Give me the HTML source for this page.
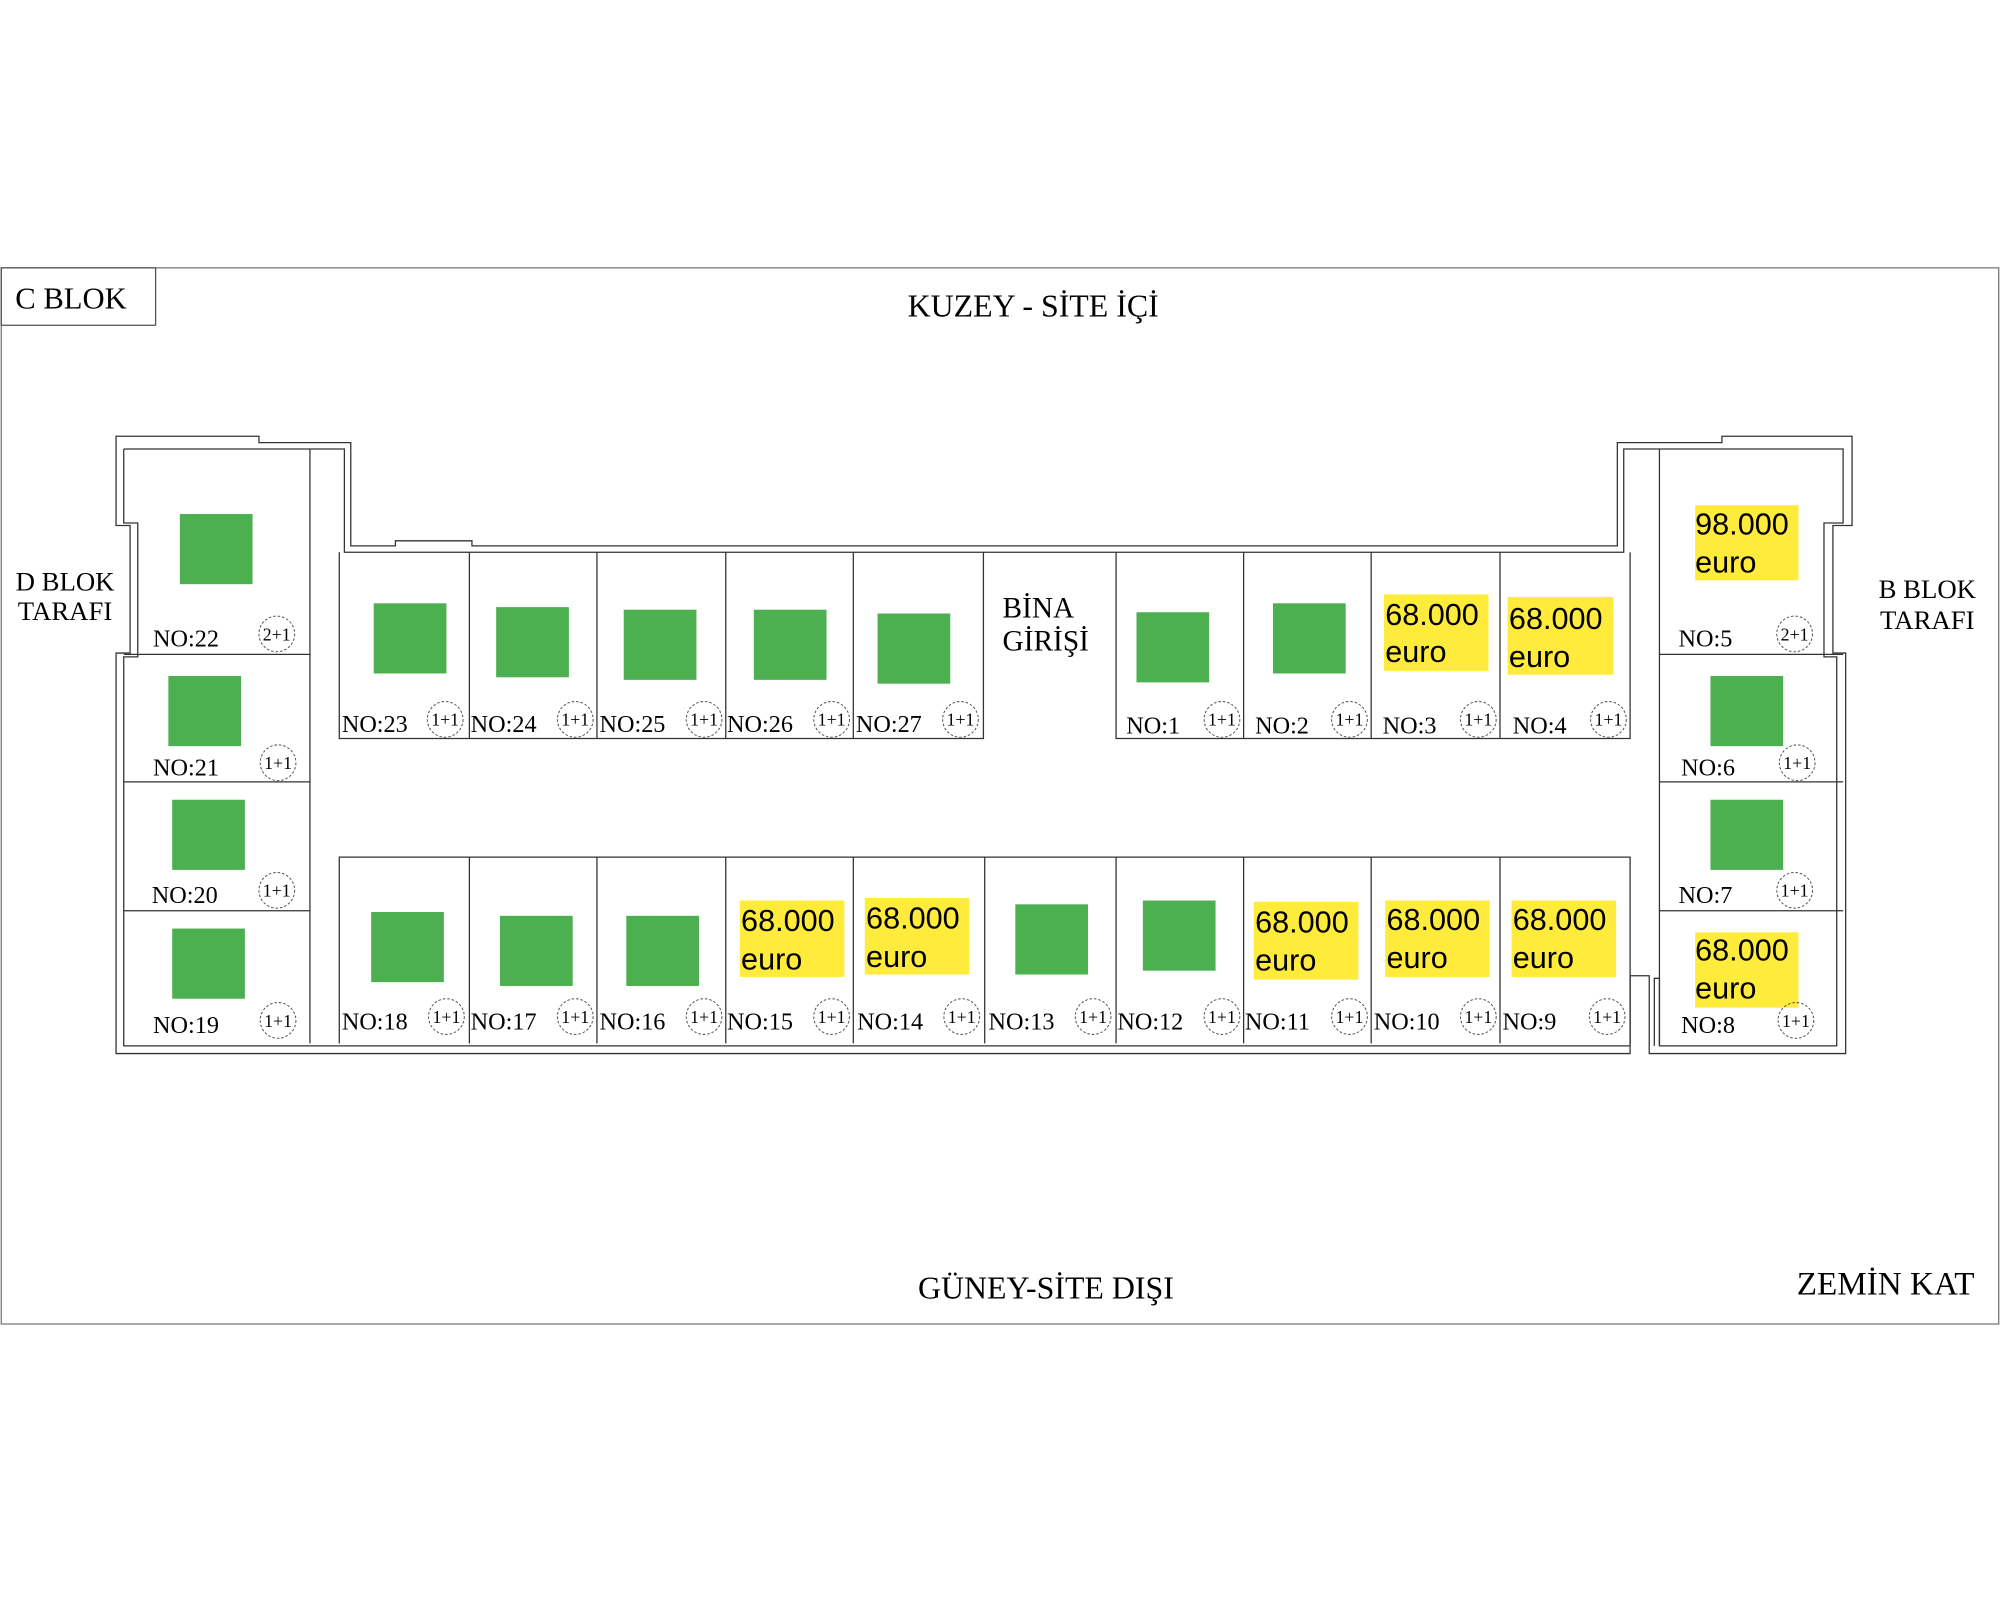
<!DOCTYPE html>
<html><head><meta charset="utf-8"><style>
html,body{margin:0;padding:0;background:#fff;}
svg{display:block;}
.s{font-family:"Liberation Serif",serif;fill:#000;}
.y{font-family:"Liberation Sans",sans-serif;fill:#000;font-size:24px;}
.c{fill:none;stroke:#555;stroke-width:0.8;stroke-dasharray:2,1.5;}
.l{fill:none;stroke:#333;stroke-width:1;}
.g{fill:#4caf50;}
.b{fill:#ffeb3b;}
</style></head><body>
<svg width="2000" height="1600" viewBox="0 0 1568 1254.4" xmlns="http://www.w3.org/2000/svg">
<rect x="1" y="210" width="1566" height="828" fill="none" stroke="#777" stroke-width="1"/>
<rect x="1" y="210" width="121" height="45" fill="none" stroke="#555" stroke-width="1"/>
<text class="s" x="12" y="242" font-size="24">C BLOK</text>
<text class="s" x="810" y="248" font-size="25" text-anchor="middle">KUZEY - SİTE İÇİ</text>
<text class="s" x="820" y="1018" font-size="25" text-anchor="middle">GÜNEY-SİTE DIŞI</text>
<text class="s" x="1548" y="1015" font-size="26" text-anchor="end">ZEMİN KAT</text>
<text class="s" x="51" y="463" font-size="21" text-anchor="middle">D BLOK</text>
<text class="s" x="51" y="486" font-size="21" text-anchor="middle">TARAFI</text>
<text class="s" x="1511" y="469" font-size="21" text-anchor="middle">B BLOK</text>
<text class="s" x="1511" y="493" font-size="21" text-anchor="middle">TARAFI</text>
<text class="s" x="786" y="484" font-size="23">BİNA</text>
<text class="s" x="786" y="510" font-size="23">GİRİŞİ</text>

<!-- walls -->
<path class="l" d="M91,342 H203 V347 H275 V428 H310 V424 H370 V428 H1268 V347 H1350 V342 H1452 V412 H1437 V512 H1447 V826 H1293 V765 H1278 V826 H91 V512 H102 V412 H91 Z"/>
<path class="l" d="M97,352 H270 V433 H1273 V352 H1445 V410 H1430 V515 H1440 V820 H1301 V767 H1297 V820"/>
<path class="l" d="M1278,820 H97 V515 H108 V410 H97 V352"/>
<line class="l" x1="243" y1="352" x2="243" y2="818"/>
<line class="l" x1="1301" y1="352" x2="1301" y2="820"/>
<line class="l" x1="97" y1="513" x2="243" y2="513"/>
<line class="l" x1="97" y1="613" x2="243" y2="613"/>
<line class="l" x1="97" y1="714" x2="243" y2="714"/>
<line class="l" x1="1301" y1="513" x2="1445" y2="513"/>
<line class="l" x1="1301" y1="613" x2="1445" y2="613"/>
<line class="l" x1="1301" y1="714" x2="1445" y2="714"/>
<path class="l" d="M266,433 V579 H771 V433 M368,433 V579 M468,433 V579 M569,433 V579 M669,433 V579"/>
<path class="l" d="M875,433 V579 H1278 V433 M975,433 V579 M1075,433 V579 M1176,433 V579"/>
<path class="l" d="M266,818 V672 H1278 V818 M368,672 V818 M468,672 V818 M569,672 V818 M669,672 V818 M772,672 V818 M875,672 V818 M975,672 V818 M1075,672 V818 M1176,672 V818"/>

<rect class="g" x="141" y="403" width="57" height="55"/>
<rect class="g" x="132" y="530" width="57" height="55"/>
<rect class="g" x="135" y="627" width="57" height="55"/>
<rect class="g" x="135" y="728" width="57" height="55"/>
<rect class="g" x="293" y="473" width="57" height="55"/>
<rect class="g" x="389" y="476" width="57" height="55"/>
<rect class="g" x="489" y="478" width="57" height="55"/>
<rect class="g" x="591" y="478" width="57" height="55"/>
<rect class="g" x="688" y="481" width="57" height="55"/>
<rect class="g" x="891" y="480" width="57" height="55"/>
<rect class="g" x="998" y="473" width="57" height="55"/>
<rect class="g" x="291" y="715" width="57" height="55"/>
<rect class="g" x="392" y="718" width="57" height="55"/>
<rect class="g" x="491" y="718" width="57" height="55"/>
<rect class="g" x="796" y="709" width="57" height="55"/>
<rect class="g" x="896" y="706" width="57" height="55"/>
<rect class="g" x="1341" y="530" width="57" height="55"/>
<rect class="g" x="1341" y="627" width="57" height="55"/>

<g>
<rect class="b" x="1085" y="466" width="82" height="60"/><text class="y" x="1086" y="490">68.000</text><text class="y" x="1086" y="519">euro</text>
<rect class="b" x="1182" y="468" width="83" height="61"/><text class="y" x="1183" y="493">68.000</text><text class="y" x="1183" y="523">euro</text>
<rect class="b" x="1329" y="396" width="81" height="59"/><text class="y" x="1329" y="419">98.000</text><text class="y" x="1329" y="449">euro</text>
<rect class="b" x="580" y="706" width="82" height="60"/><text class="y" x="581" y="730">68.000</text><text class="y" x="581" y="760">euro</text>
<rect class="b" x="678" y="704" width="82" height="60"/><text class="y" x="679" y="728">68.000</text><text class="y" x="679" y="758">euro</text>
<rect class="b" x="983" y="707" width="82" height="61"/><text class="y" x="984" y="731">68.000</text><text class="y" x="984" y="761">euro</text>
<rect class="b" x="1086" y="706" width="82" height="60"/><text class="y" x="1087" y="729">68.000</text><text class="y" x="1087" y="759">euro</text>
<rect class="b" x="1185" y="706" width="82" height="60"/><text class="y" x="1186" y="729">68.000</text><text class="y" x="1186" y="759">euro</text>
<rect class="b" x="1329" y="731" width="81" height="59"/><text class="y" x="1329" y="753">68.000</text><text class="y" x="1329" y="783">euro</text>
</g>

<g class="s" font-size="19">
<text x="120" y="507">NO:22</text>
<text x="120" y="608">NO:21</text>
<text x="119" y="708">NO:20</text>
<text x="120" y="810">NO:19</text>
<text x="268" y="574">NO:23</text>
<text x="369" y="574">NO:24</text>
<text x="470" y="574">NO:25</text>
<text x="570" y="574">NO:26</text>
<text x="671" y="574">NO:27</text>
<text x="883" y="575">NO:1</text>
<text x="984" y="575">NO:2</text>
<text x="1084" y="575">NO:3</text>
<text x="1186" y="575">NO:4</text>
<text x="268" y="807">NO:18</text>
<text x="369" y="807">NO:17</text>
<text x="470" y="807">NO:16</text>
<text x="570" y="807">NO:15</text>
<text x="672" y="807">NO:14</text>
<text x="775" y="807">NO:13</text>
<text x="876" y="807">NO:12</text>
<text x="976" y="807">NO:11</text>
<text x="1077" y="807">NO:10</text>
<text x="1178" y="807">NO:9</text>
<text x="1316" y="507">NO:5</text>
<text x="1318" y="608">NO:6</text>
<text x="1316" y="708">NO:7</text>
<text x="1318" y="810">NO:8</text>
</g>

<g>
<circle class="c" cx="217" cy="497" r="14"/><text class="s" x="217" y="502" font-size="14" text-anchor="middle">2+1</text>
<circle class="c" cx="218" cy="598" r="14"/><text class="s" x="218" y="603" font-size="14" text-anchor="middle">1+1</text>
<circle class="c" cx="217" cy="698" r="14"/><text class="s" x="217" y="703" font-size="14" text-anchor="middle">1+1</text>
<circle class="c" cx="218" cy="800" r="14"/><text class="s" x="218" y="805" font-size="14" text-anchor="middle">1+1</text>
<circle class="c" cx="1407" cy="497" r="14"/><text class="s" x="1407" y="502" font-size="14" text-anchor="middle">2+1</text>
<circle class="c" cx="1409" cy="598" r="14"/><text class="s" x="1409" y="603" font-size="14" text-anchor="middle">1+1</text>
<circle class="c" cx="1407" cy="698" r="14"/><text class="s" x="1407" y="703" font-size="14" text-anchor="middle">1+1</text>
<circle class="c" cx="1408" cy="800" r="14"/><text class="s" x="1408" y="805" font-size="14" text-anchor="middle">1+1</text>
<circle class="c" cx="349" cy="564" r="14"/><text class="s" x="349" y="569" font-size="14" text-anchor="middle">1+1</text>
<circle class="c" cx="451" cy="564" r="14"/><text class="s" x="451" y="569" font-size="14" text-anchor="middle">1+1</text>
<circle class="c" cx="552" cy="564" r="14"/><text class="s" x="552" y="569" font-size="14" text-anchor="middle">1+1</text>
<circle class="c" cx="652" cy="564" r="14"/><text class="s" x="652" y="569" font-size="14" text-anchor="middle">1+1</text>
<circle class="c" cx="753" cy="564" r="14"/><text class="s" x="753" y="569" font-size="14" text-anchor="middle">1+1</text>
<circle class="c" cx="958" cy="564" r="14"/><text class="s" x="958" y="569" font-size="14" text-anchor="middle">1+1</text>
<circle class="c" cx="1058" cy="564" r="14"/><text class="s" x="1058" y="569" font-size="14" text-anchor="middle">1+1</text>
<circle class="c" cx="1159" cy="564" r="14"/><text class="s" x="1159" y="569" font-size="14" text-anchor="middle">1+1</text>
<circle class="c" cx="1261" cy="564" r="14"/><text class="s" x="1261" y="569" font-size="14" text-anchor="middle">1+1</text>
<circle class="c" cx="350" cy="797" r="14"/><text class="s" x="350" y="802" font-size="14" text-anchor="middle">1+1</text>
<circle class="c" cx="451" cy="797" r="14"/><text class="s" x="451" y="802" font-size="14" text-anchor="middle">1+1</text>
<circle class="c" cx="552" cy="797" r="14"/><text class="s" x="552" y="802" font-size="14" text-anchor="middle">1+1</text>
<circle class="c" cx="652" cy="797" r="14"/><text class="s" x="652" y="802" font-size="14" text-anchor="middle">1+1</text>
<circle class="c" cx="754" cy="797" r="14"/><text class="s" x="754" y="802" font-size="14" text-anchor="middle">1+1</text>
<circle class="c" cx="857" cy="797" r="14"/><text class="s" x="857" y="802" font-size="14" text-anchor="middle">1+1</text>
<circle class="c" cx="958" cy="797" r="14"/><text class="s" x="958" y="802" font-size="14" text-anchor="middle">1+1</text>
<circle class="c" cx="1058" cy="797" r="14"/><text class="s" x="1058" y="802" font-size="14" text-anchor="middle">1+1</text>
<circle class="c" cx="1159" cy="797" r="14"/><text class="s" x="1159" y="802" font-size="14" text-anchor="middle">1+1</text>
<circle class="c" cx="1260" cy="797" r="14"/><text class="s" x="1260" y="802" font-size="14" text-anchor="middle">1+1</text>
</g>
</svg>
</body></html>
